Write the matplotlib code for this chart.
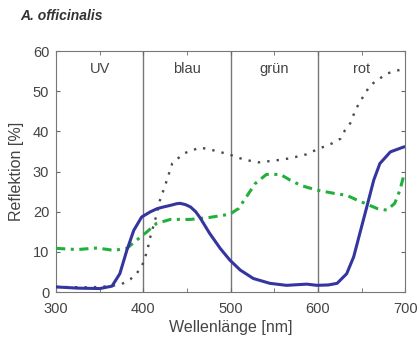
import matplotlib
matplotlib.use("Agg")
import matplotlib.pyplot as plt

plt.rcParams['font.family'] = ['Liberation Sans', 'DejaVu Sans']

# Reflexionsspektren
wl_blue = [300, 325, 350, 364, 373, 381, 389, 398, 408, 416, 423, 431, 438, 442, 448, 454, 460, 465, 476,
           488, 499, 511, 526, 545, 564, 587, 599, 612, 622, 633, 641, 648, 656, 664, 671,
           683, 698, 700]
refl_blue = [1.3, 1.0, 0.9, 1.5, 4.6, 10.4, 15.4, 18.7, 20.0, 20.8, 21.2, 21.6, 22.0, 22.1, 21.8, 21.2, 20.0, 18.5, 14.6,
             10.9, 8.0, 5.5, 3.4, 2.2, 1.7, 2.0, 1.7, 1.8, 2.2, 4.6, 8.8, 14.6, 21.2, 27.9, 32.0,
             34.9, 36.1, 36.2]

wl_green = [300, 324, 347, 366, 381, 392, 404, 415, 431, 454, 476, 499, 509, 518, 528,
            541, 557, 568, 580, 589, 599, 618, 633, 645, 656, 668, 679, 688, 694, 698, 700]
refl_green = [10.9, 10.6, 11.0, 10.4, 10.9, 12.9, 15.0, 17.1, 18.1, 18.1, 18.6, 19.4, 20.8, 23.7, 27.0,
              29.3, 29.3, 27.9, 26.6, 26.0, 25.4, 24.6, 24.1, 22.9, 21.9, 20.8, 20.4, 22.1, 25.4, 28.7, 29.0]

wl_gray = [300, 340, 362, 375, 385, 392, 398, 404, 408, 415, 419, 425, 433, 446, 465,
           480, 498, 515, 532, 549, 568, 587, 599, 616, 626, 631, 637, 643, 648, 654, 660,
           668, 679, 692, 698]
refl_gray = [1.3, 1.2, 1.5, 2.0, 3.2, 4.6, 6.3, 10.0, 13.8, 19.2, 22.9, 26.6, 32.0, 34.5, 36.0,
             35.3, 34.3, 33.0, 32.3, 32.7, 33.3, 34.3, 35.5, 37.0, 38.2, 40.3, 42.0, 45.3, 47.3, 49.4, 51.5,
             52.7, 54.4, 55.2, 55.5]

bands = ["UV", "blau", "grün", "rot"]
band_centers = [350, 450, 550, 650]
band_edges = [400, 500, 600]

fig = plt.figure(figsize=(4.19, 3.47), dpi=100)
ax = fig.add_axes([0.134, 0.158, 0.833, 0.695])

txtcol = "#444444"

for e in band_edges:
    ax.axvline(e, color="#777777", lw=1.0, zorder=1)
for name, c in zip(bands, band_centers):
    ax.text(c, 55.5, name, ha="center", va="center", fontsize=10.5, color=txtcol)

ax.plot(wl_gray, refl_gray, color="#4a4a4a", lw=1.7, linestyle=(0, (1, 3.0)), zorder=2)
ax.plot(wl_green, refl_green, color="#22b03c", lw=2.2, linestyle=(0, (3, 1.8, 1, 1.8)), zorder=3)
ax.plot(wl_blue, refl_blue, color="#3535a0", lw=2.2, zorder=4)

ax.set_xlim(300, 700)
ax.set_ylim(0, 60)
ax.set_xticks([300, 400, 500, 600, 700])
ax.set_xticks([350, 450, 550, 650], minor=True)
ax.set_yticks([0, 10, 20, 30, 40, 50, 60])
ax.tick_params(which="both", direction="in", top=True, right=True, labelsize=10.5,
               colors="#666666", labelcolor=txtcol, length=3)
ax.tick_params(axis="x", pad=7)
ax.tick_params(axis="y", pad=5)
for s in ax.spines.values():
    s.set_color("#777777")

ax.set_xlabel("Wellenlänge [nm]", fontsize=11.5, color=txtcol, labelpad=3)
ax.set_ylabel("Reflektion [%]", fontsize=11.5, color=txtcol, labelpad=6)

fig.text(0.048, 0.955, "A. officinalis", fontsize=10, fontweight="bold", fontstyle="italic",
         color="#333333", ha="left", va="center")

fig.savefig("out.png", dpi=100)
